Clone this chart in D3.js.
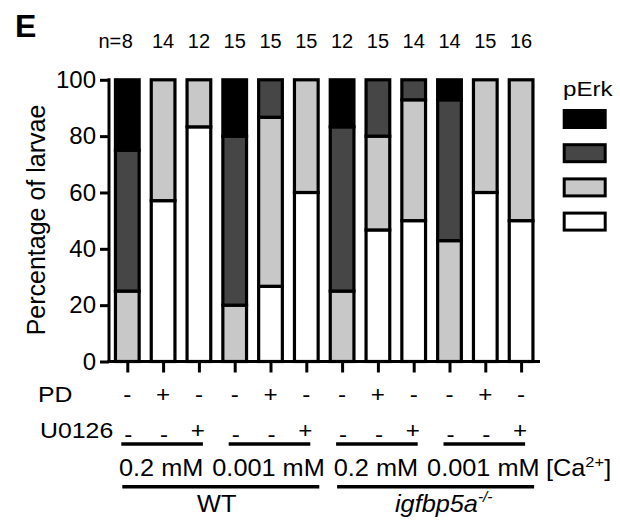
<!DOCTYPE html>
<html>
<head>
<meta charset="utf-8">
<script src="https://cdn.jsdelivr.net/npm/d3@7"></script>
<style>
  html, body { margin: 0; padding: 0; background: #fff; }
  svg { display: block; font-family: "Liberation Sans", Arial, Helvetica, sans-serif; }
</style>
</head>
<body>
<svg id="chart" width="620" height="529"></svg>
<script>
// ---- data (percent of larvae per pErk level) ----
const nValues = [8, 14, 12, 15, 15, 15, 12, 15, 14, 14, 15, 16];
const black   = [25, 0, 0, 20, 0, 0, 16.7, 0, 0, 7.1, 0, 0];
const dark    = [50, 0, 0, 60, 13.3, 0, 58.3, 20, 7.1, 50, 0, 0];
const light   = [25, 42.9, 16.7, 20, 60, 40, 25, 33.3, 42.9, 42.9, 40, 50];
const white   = [0, 57.1, 83.3, 0, 26.7, 60, 0, 46.7, 50, 0, 60, 50];
const pdRow    = ["-", "+", "-", "-", "+", "-", "-", "+", "-", "-", "+", "-"];
const u0126Row = ["-", "-", "+", "-", "-", "+", "-", "-", "+", "-", "-", "+"];
const caLabels = ["0.2 mM", "0.001 mM", "0.2 mM", "0.001 mM"];
const genotypes = ["WT", "igfbp5a"];
const yTicks = [0, 20, 40, 60, 80, 100];
const levelKeys = ["white", "light", "dark", "black"];
const levelColors = { black: "#000000", dark: "#464646", light: "#c8c8c8", white: "#ffffff" };
const legendOrder = ["black", "dark", "light", "white"];

// ---- build table ----
const table = nValues.map((n, i) => ({ i, n, black: black[i], dark: dark[i], light: light[i], white: white[i] }));

const svg = d3.select("#chart");
const x = d3.scalePoint().domain(d3.range(nValues.length)).range([127.3, 521.1]);
const y = d3.scaleLinear().domain([0, 100]).range([361.5, 79.8]);
const barW = 23.7;

function stxt(g, px, py, str, size, opts = {}) {
  const t = g.append("text")
    .attr("transform", `translate(${px},${py}) scale(${opts.sx || 1},1)`)
    .attr("font-size", size)
    .attr("text-anchor", opts.anchor || "start")
    .attr("fill", "#000");
  if (opts.italic) t.attr("font-style", "italic");
  if (opts.weight) t.attr("font-weight", opts.weight);
  if (str !== null) t.text(str);
  return t;
}

// panel letter
stxt(svg, 15, 36.5, "E", 32, { weight: "bold" });

// ---- bars ----
const stack = d3.stack().keys(levelKeys)(table);
const gBars = svg.append("g");
stack.forEach(layer => {
  gBars.selectAll(null)
    .data(layer.filter(d => d[1] - d[0] > 0.01))
    .join("rect")
    .attr("x", d => x(d.data.i) - barW / 2)
    .attr("width", barW)
    .attr("y", d => y(d[1]))
    .attr("height", d => y(d[0]) - y(d[1]))
    .attr("fill", levelColors[layer.key])
    .attr("stroke", "#000")
    .attr("stroke-width", 3.2);
});

// ---- y axis ----
const yAxis = d3.axisLeft(y).tickValues(yTicks).tickSize(9).tickSizeOuter(0).tickPadding(4);
const gy = svg.append("g").attr("transform", "translate(109,0)").call(yAxis);
gy.select(".domain").attr("stroke-width", 3).attr("d", `M0,${y(0) + 1.5}V${y(100) - 1.5}`);
gy.selectAll(".tick line").attr("stroke-width", 3);
gy.selectAll(".tick text").attr("font-size", 24).attr("font-family", "Liberation Sans, Arial, sans-serif").attr("fill", "#000");

// y label
svg.append("text")
  .attr("transform", "translate(44.5,220) rotate(-90)")
  .attr("text-anchor", "middle")
  .attr("font-size", 25)
  .text("Percentage of larvae");

// ---- x axis ----
const xAxis = d3.axisBottom(x).tickSize(11).tickSizeOuter(0).tickFormat("");
const gx = svg.append("g").attr("transform", `translate(0,${y(0)})`).call(xAxis);
gx.select(".domain").attr("stroke-width", 3).attr("d", "M107.5,0H540");
gx.selectAll(".tick line").attr("stroke-width", 3);

// ---- n labels ----
nValues.forEach((n, i) => stxt(svg, x(i), 48, String(n), 20, { anchor: "middle" }));
stxt(svg, x(0) - 6, 48, "n=", 20, { anchor: "end" });

// ---- treatment rows ----
stxt(svg, 38, 402.3, "PD", 22, { sx: 1.13 });
stxt(svg, 40, 438.3, "U0126", 22, { sx: 1.13 });
pdRow.forEach((s, i) => stxt(svg, x(i), 402.3, s, 22, { anchor: "middle", sx: 1.1 }));
u0126Row.forEach((s, i) => stxt(svg, x(i) + (s === "-" ? 1 : -1), 438.3 + (s === "-" ? 4 : 0), s, 22, { anchor: "middle", sx: 1.1 }));

// group underlines and calcium labels
const groups = d3.range(4).map(g => d3.range(g * 3, g * 3 + 3));
groups.forEach((idx, g) => {
  const x0 = x(idx[0]) - 6, x1 = x(idx[2]) + 4;
  svg.append("line").attr("x1", x0).attr("x2", x1).attr("y1", 444).attr("y2", 444)
    .attr("stroke", "#000").attr("stroke-width", 3.5);
  stxt(svg, (x(idx[0]) + x(idx[2])) / 2 - 2, 476, caLabels[g], 23, { anchor: "middle", sx: 1.1 });
});
const ca = stxt(svg, 546, 476, null, 23, { sx: 1.1 });
ca.append("tspan").text("[Ca");
ca.append("tspan").attr("font-size", 15).attr("dy", -9).text("2+");
ca.append("tspan").attr("dy", 9).text("]");

// genotype underlines and labels
const genoIdx = [d3.range(0, 6), d3.range(6, 12)];
genoIdx.forEach((idx, g) => {
  const x0 = x(idx[0]) - 5, x1 = x(idx[idx.length - 1]) + 13;
  svg.append("line").attr("x1", x0).attr("x2", x1).attr("y1", 486.7).attr("y2", 486.7)
    .attr("stroke", "#000").attr("stroke-width", 3.5);
});
stxt(svg, 216.7, 512.3, genotypes[0], 23, { anchor: "middle", sx: 1.1 });
const ig = stxt(svg, 395, 512.3, null, 23, { italic: true, sx: 1.1 });
ig.append("tspan").text(genotypes[1]);
ig.append("tspan").attr("font-size", 14).attr("dy", -10).text("-/-");

// ---- legend ----
stxt(svg, 563, 96, "pErk", 21, { sx: 1.15 });
svg.append("g").selectAll("rect")
  .data(legendOrder)
  .join("rect")
  .attr("x", 564.2)
  .attr("y", (d, i) => 110.5 + i * 34.2)
  .attr("width", 41)
  .attr("height", 17)
  .attr("fill", d => levelColors[d])
  .attr("stroke", "#000")
  .attr("stroke-width", 3);
</script>
</body>
</html>
